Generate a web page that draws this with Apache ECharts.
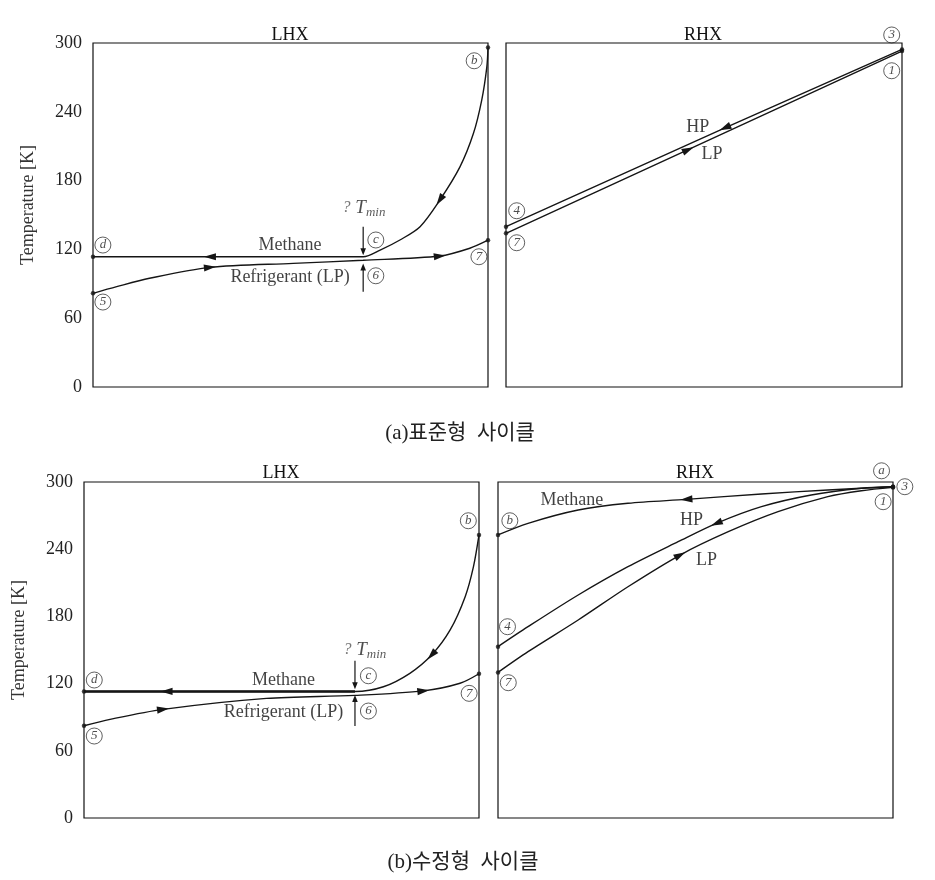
<!DOCTYPE html>
<html>
<head>
<meta charset="utf-8">
<script src="https://cdn.jsdelivr.net/npm/echarts@6/dist/echarts.min.js"></script>
<style>
html,body{margin:0;padding:0;background:#fff;}
#chart{width:935px;height:880px;}
</style>
</head>
<body>
<div id="chart"></div>
<script>
// ---------------- data ----------------
const yTicks = [0, 60, 120, 180, 240, 300];

// (a) standard cycle - LHX
const aLhxMethaneX = [0, 29.6, 68.4, 72.7, 77.7, 82.8, 87.8, 92.9, 96.3, 98.4, 99.7, 100];
const aLhxMethaneT = [113.6, 113.6, 113.6, 119.4, 128.2, 139.8, 163, 192, 221, 250, 279, 296];
const aLhxRefX = [0, 6, 14.3, 29.6, 50.7, 68.4, 87.8, 95.4, 100];
const aLhxRefT = [81.7, 87.5, 94.8, 104.3, 107.8, 110.5, 114.2, 121, 128];
// (a) standard cycle - RHX
const aRhxHpX = [0, 55.3, 100];
const aRhxHpT = [139.8, 226, 294.4];
const aRhxLpX = [0, 46, 100];
const aRhxLpT = [134, 207, 293];

// (b) modified cycle - LHX
const bLhxMethaneX = [0, 20.9, 68.6, 75.8, 82.5, 88, 92.7, 96.5, 98.6, 100];
const bLhxMethaneT = [113, 113, 113, 117.2, 129.2, 145.5, 167.9, 197.6, 224.4, 252.7];
const bLhxRefX = [0, 6.6, 20, 46.2, 68.6, 85.9, 95.2, 100];
const bLhxRefT = [82.4, 88.1, 97, 106.8, 109.5, 113.5, 120.3, 128.8];
// (b) modified cycle - RHX
const bRhxMethaneX = [0, 7.6, 20.3, 32.9, 47.7, 66.7, 83.5, 100];
const bRhxMethaneT = [252.7, 263.1, 275, 281, 284.5, 289.3, 292.9, 295.8];
const bRhxHpX = [0, 7.6, 20.3, 32.9, 45.6, 55.3, 66.7, 79.3, 92, 100];
const bRhxHpT = [153, 170.8, 199.1, 224.4, 246.7, 263.1, 278, 288.4, 294.4, 295.8];
const bRhxLpX = [0, 7.6, 20.3, 32.9, 46.1, 58.3, 70.9, 83.5, 92, 100];
const bRhxLpT = [130, 148.5, 176.8, 206.5, 234.8, 255.6, 273.5, 286.9, 292.2, 295.2];

// T_min markers: [x, from T, to T]
const aTmin = [[68.4, 139.8, 115], [68.4, 83, 107.8]];
const bTmin = [[68.6, 140.4, 115], [68.6, 82.1, 109.8]];

// circled state labels: [x, T, label]
const aLhxStates = [[2.5, 123.8, 'd'], [71.6, 128.2, 'c'], [71.6, 97, '6'], [2.5, 74.1, '5'], [97.7, 113.6, '7'], [96.5, 284.5, 'b']];
const aRhxStates = [[97.4, 307, '3'], [97.4, 275.8, '1'], [2.7, 153.7, '4'], [2.7, 125.8, '7']];
const bLhxStates = [[2.6, 123.2, 'd'], [72, 127, 'c'], [72, 95.5, '6'], [2.6, 73.2, '5'], [97.5, 111.3, '7'], [97.3, 265.4, 'b']];
const bRhxStates = [[97.1, 310, 'a'], [103, 295.8, '3'], [97.5, 282.4, '1'], [3, 265.4, 'b'], [2.4, 170.8, '4'], [2.6, 120.8, '7']];

// text annotations: [x, T, text]
const aLhxTexts = [[49.9, 123.8, 'Methane'], [49.9, 95.9, 'Refrigerant (LP)'], [68.6, 156, 'TMIN']];
const aRhxTexts = [[48.4, 226.4, 'HP'], [52, 203.1, 'LP']];
const bLhxTexts = [[50.5, 123.2, 'Methane'], [50.5, 94, 'Refrigerant (LP)'], [71.1, 150, 'TMIN']];
const bRhxTexts = [[18.7, 283.3, 'Methane'], [49, 266, 'HP'], [52.8, 230.4, 'LP']];

const panelTitles = ['LHX', 'RHX', 'LHX', 'RHX'];
const captions = ['(a)표준형  사이클', '(b)수정형  사이클'];
const yName = 'Temperature [K]';

// ---------------- helpers ----------------
const SERIF = "'Liberation Serif','Times New Roman','DejaVu Serif',serif";
const INK = '#151515';

function pts(xs, ts) { return xs.map((x, i) => [x, ts[i]]); }

function curve(g, xs, ts, smooth, width) {
  return {
    type: 'line', xAxisIndex: g, yAxisIndex: g,
    data: pts(xs, ts), smooth: smooth,
    showSymbol: false, symbol: 'none', silent: true,
    lineStyle: { color: INK, width: width || 1.4 },
    z: 3
  };
}
function ends(g, list) {
  const d = [];
  list.forEach(([xs, ts]) => { d.push([xs[0], ts[0]]); d.push([xs[xs.length - 1], ts[ts.length - 1]]); });
  return {
    type: 'scatter', xAxisIndex: g, yAxisIndex: g, data: d, symbolSize: 4.5,
    itemStyle: { color: INK }, silent: true, z: 5, clip: false
  };
}
// arrow at point idx of a curve, direction along curve (sign +1 forward in x, -1 backward)
function arrows(g, specs) {
  const d = specs.map(([xs, ts, i, s]) => [xs[i], ts[i], xs[i - 1], ts[i - 1], xs[i + 1], ts[i + 1], s]);
  return {
    type: 'custom', xAxisIndex: g, yAxisIndex: g, data: d, silent: true, z: 6,
    encode: { x: 0, y: 1 },
    renderItem: function (params, api) {
      const p = api.coord([api.value(0), api.value(1)]);
      const a = api.coord([api.value(2), api.value(3)]);
      const b = api.coord([api.value(4), api.value(5)]);
      const s = api.value(6);
      let dx = (b[0] - a[0]) * s, dy = (b[1] - a[1]) * s;
      const L = Math.hypot(dx, dy) || 1; dx /= L; dy /= L;
      const nx = -dy, ny = dx, len = 12, w = 3.6;
      const tip = [p[0] + dx * len / 2, p[1] + dy * len / 2];
      const b1 = [p[0] - dx * len / 2 + nx * w, p[1] - dy * len / 2 + ny * w];
      const b2 = [p[0] - dx * len / 2 - nx * w, p[1] - dy * len / 2 - ny * w];
      return { type: 'polygon', shape: { points: [tip, b1, b2] }, style: { fill: INK } };
    }
  };
}
function tminArrows(g, list) {
  return {
    type: 'custom', xAxisIndex: g, yAxisIndex: g, data: list, silent: true, z: 6,
    encode: { x: 0, y: 1 },
    renderItem: function (params, api) {
      const p1 = api.coord([api.value(0), api.value(1)]);
      const p2 = api.coord([api.value(0), api.value(2)]);
      const dir = p2[1] > p1[1] ? 1 : -1;
      const len = 7, w = 2.8;
      return {
        type: 'group', children: [
          { type: 'line', shape: { x1: p1[0], y1: p1[1], x2: p2[0], y2: p2[1] - dir * 3 }, style: { stroke: INK, lineWidth: 1.2 } },
          { type: 'polygon', shape: { points: [[p2[0], p2[1]], [p2[0] - w, p2[1] - dir * len], [p2[0] + w, p2[1] - dir * len]] }, style: { fill: INK } }
        ]
      };
    }
  };
}
function states(g, list) {
  return {
    type: 'scatter', xAxisIndex: g, yAxisIndex: g, clip: false, silent: true, z: 7,
    data: list.map(s => ({ value: [s[0], s[1]], name: s[2] })),
    symbol: 'circle', symbolSize: 16,
    itemStyle: { color: 'rgba(255,255,255,0)', borderColor: '#222', borderWidth: 0.9 },
    label: {
      show: true, position: 'inside', formatter: '{b}',
      fontFamily: SERIF, fontStyle: 'italic', fontSize: 13, color: '#222'
    }
  };
}
function texts(g, list) {
  return {
    type: 'scatter', xAxisIndex: g, yAxisIndex: g, clip: false, silent: true, z: 7,
    data: list.map(s => ({ value: [s[0], s[1]], name: s[2] })),
    symbolSize: 1, itemStyle: { color: 'rgba(0,0,0,0)' },
    label: {
      show: true, position: 'inside', color: '#111', fontFamily: SERIF, fontSize: 18,
      formatter: p => p.name === 'TMIN' ? '{q|?}{t| T}{s|min}' : p.name,
      rich: {
        q: { fontFamily: SERIF, fontStyle: 'italic', fontSize: 16, color: '#555' },
        t: { fontFamily: SERIF, fontStyle: 'italic', fontSize: 19, color: '#222' },
        s: { fontFamily: SERIF, fontStyle: 'italic', fontSize: 13, color: '#333', padding: [9, 0, 0, 0] }
      }
    }
  };
}

// ---------------- layout ----------------
const grids = [
  { left: 93, top: 43, width: 395, height: 344 },
  { left: 506, top: 43, width: 396, height: 344 },
  { left: 84, top: 482, width: 395, height: 336 },
  { left: 498, top: 482, width: 395, height: 336 }
].map(g => Object.assign(g, { show: true, borderColor: '#111', borderWidth: 1.2, backgroundColor: 'rgba(0,0,0,0)', containLabel: false }));

const xAxes = grids.map((g, i) => ({ type: 'value', gridIndex: i, min: 0, max: 100, show: false }));
const yAxes = grids.map((g, i) => {
  const left = (i === 0 || i === 2);
  return {
    type: 'value', gridIndex: i, min: yTicks[0], max: yTicks[yTicks.length - 1], interval: yTicks[1] - yTicks[0],
    show: true,
    axisLine: { show: false }, axisTick: { show: false }, splitLine: { show: false },
    axisLabel: { show: left, color: '#222', fontFamily: SERIF, fontSize: 18, margin: 11 },
    name: left ? yName : '', nameLocation: 'middle', nameGap: 56, nameRotate: 90,
    nameTextStyle: { color: '#333', fontFamily: SERIF, fontSize: 18, padding: [0, 0, 0, 20] }
  };
});

const titlePos = [[290, 35], [703, 35], [281, 473], [695, 473]];
const captionPos = [[460, 433], [463, 862]];
const graphic = [];
panelTitles.forEach((t, i) => graphic.push({
  type: 'text', x: titlePos[i][0], y: titlePos[i][1],
  style: { text: t, font: '18px ' + SERIF, fill: '#111', align: 'center', verticalAlign: 'middle', textAlign: 'center', textVerticalAlign: 'middle' }
}));
captions.forEach((t, i) => graphic.push({
  type: 'text', x: captionPos[i][0], y: captionPos[i][1],
  style: { text: t, font: "21px 'Liberation Serif','Noto Sans CJK KR',serif", fill: '#222', align: 'center', verticalAlign: 'middle', textAlign: 'center', textVerticalAlign: 'middle' }
}));

const series = [
  // (a) LHX
  curve(0, aLhxMethaneX, aLhxMethaneT, 0.3),
  curve(0, aLhxRefX, aLhxRefT, 0.3),
  ends(0, [[aLhxMethaneX, aLhxMethaneT], [aLhxRefX, aLhxRefT]]),
  arrows(0, [[aLhxMethaneX, aLhxMethaneT, 1, -1], [aLhxMethaneX, aLhxMethaneT, 6, -1], [aLhxRefX, aLhxRefT, 3, 1], [aLhxRefX, aLhxRefT, 6, 1]]),
  tminArrows(0, aTmin),
  states(0, aLhxStates),
  texts(0, aLhxTexts),
  // (a) RHX
  curve(1, aRhxHpX, aRhxHpT, false),
  curve(1, aRhxLpX, aRhxLpT, false),
  ends(1, [[aRhxHpX, aRhxHpT], [aRhxLpX, aRhxLpT]]),
  arrows(1, [[aRhxHpX, aRhxHpT, 1, -1], [aRhxLpX, aRhxLpT, 1, 1]]),
  states(1, aRhxStates),
  texts(1, aRhxTexts),
  // (b) LHX
  curve(2, bLhxMethaneX, bLhxMethaneT, 0.3),
  curve(2, bLhxMethaneX.slice(0, 3), bLhxMethaneT.slice(0, 3), false, 2.6),
  curve(2, bLhxRefX, bLhxRefT, 0.3),
  ends(2, [[bLhxMethaneX, bLhxMethaneT], [bLhxRefX, bLhxRefT]]),
  arrows(2, [[bLhxMethaneX, bLhxMethaneT, 1, -1], [bLhxMethaneX, bLhxMethaneT, 5, -1], [bLhxRefX, bLhxRefT, 2, 1], [bLhxRefX, bLhxRefT, 5, 1]]),
  tminArrows(2, bTmin),
  states(2, bLhxStates),
  texts(2, bLhxTexts),
  // (b) RHX
  curve(3, bRhxMethaneX, bRhxMethaneT, 0.3),
  curve(3, bRhxHpX, bRhxHpT, 0.3),
  curve(3, bRhxLpX, bRhxLpT, 0.3),
  ends(3, [[bRhxMethaneX, bRhxMethaneT], [bRhxHpX, bRhxHpT], [bRhxLpX, bRhxLpT]]),
  arrows(3, [[bRhxMethaneX, bRhxMethaneT, 4, -1], [bRhxHpX, bRhxHpT, 5, -1], [bRhxLpX, bRhxLpT, 4, 1]]),
  states(3, bRhxStates),
  texts(3, bRhxTexts)
];

const chart = echarts.init(document.getElementById('chart'), null, { renderer: 'canvas' });
chart.setOption({
  animation: false,
  backgroundColor: '#fff',
  grid: grids,
  xAxis: xAxes,
  yAxis: yAxes,
  graphic: graphic,
  series: series
});
</script>
</body>
</html>
